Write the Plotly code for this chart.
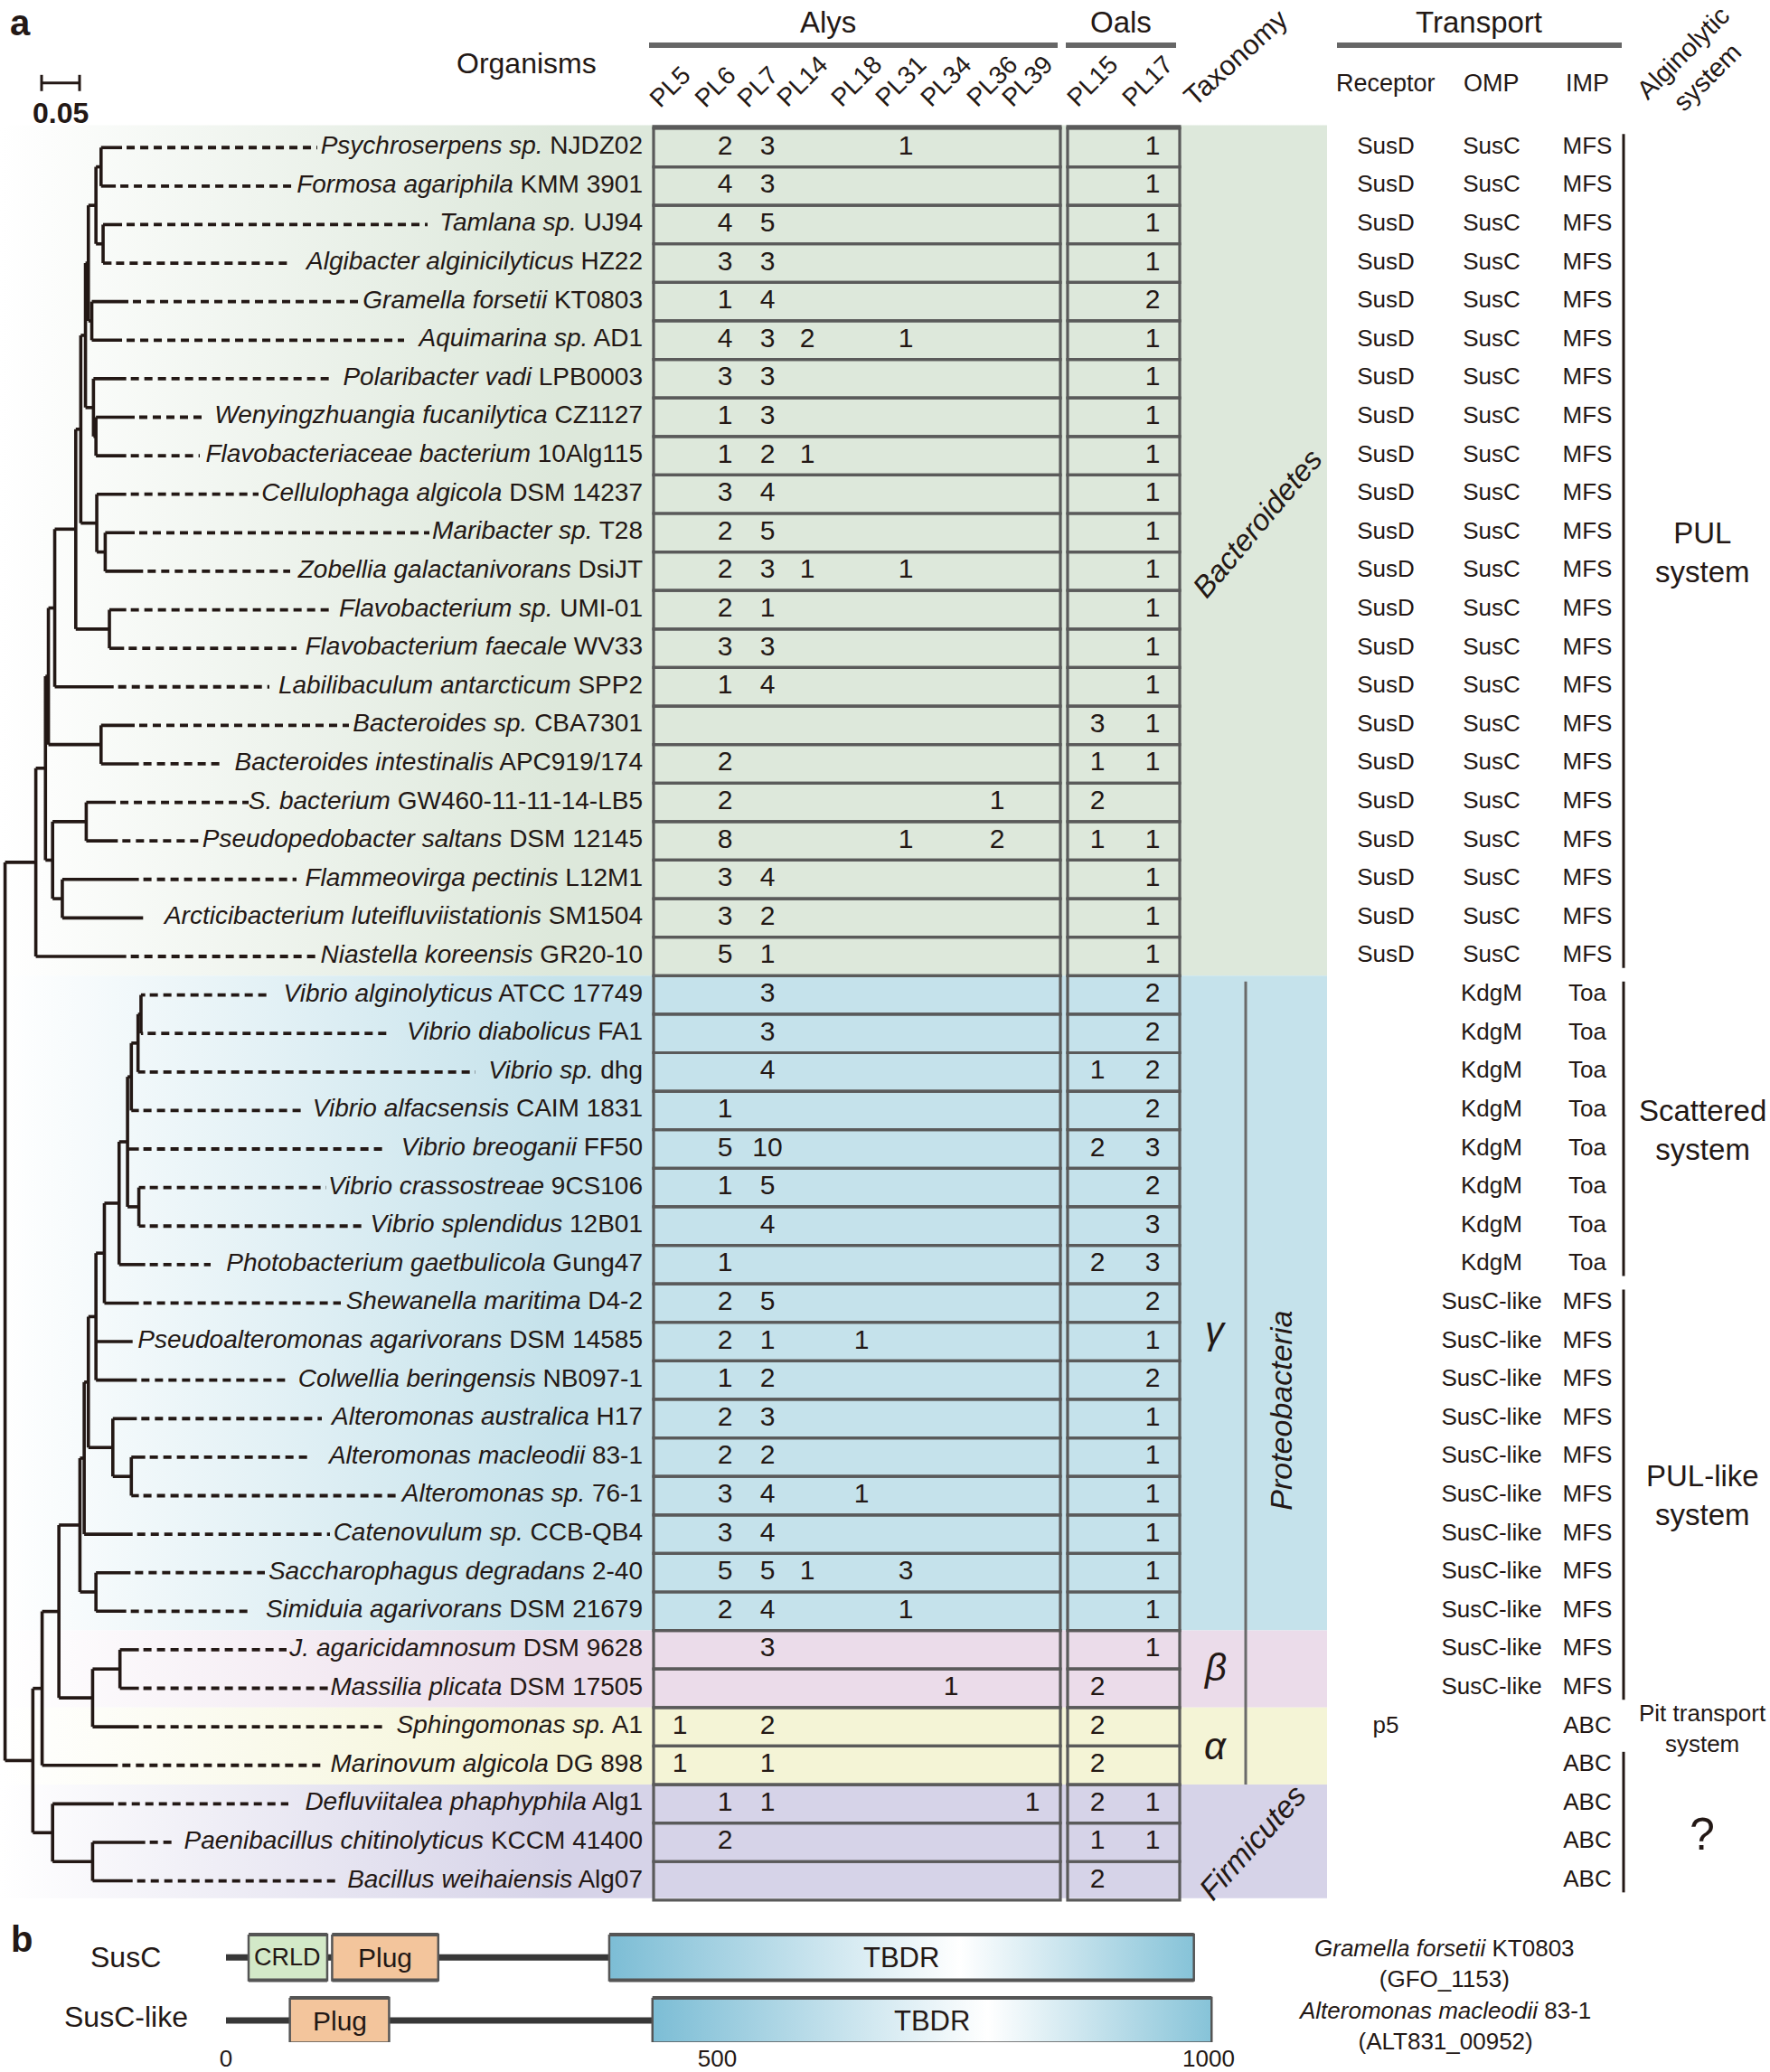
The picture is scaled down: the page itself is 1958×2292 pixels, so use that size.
import plotly.graph_objects as go

# ---------------------------------------------------------------- data
ORGANISMS = [
    "<i>Psychroserpens sp.</i> NJDZ02", "<i>Formosa agariphila</i> KMM 3901",
    "<i>Tamlana sp.</i> UJ94", "<i>Algibacter alginicilyticus</i> HZ22",
    "<i>Gramella forsetii</i> KT0803", "<i>Aquimarina sp.</i> AD1",
    "<i>Polaribacter vadi</i> LPB0003", "<i>Wenyingzhuangia fucanilytica</i> CZ1127",
    "<i>Flavobacteriaceae bacterium</i> 10Alg115", "<i>Cellulophaga algicola</i> DSM 14237",
    "<i>Maribacter sp.</i> T28", "<i>Zobellia galactanivorans</i> DsiJT",
    "<i>Flavobacterium sp.</i> UMI-01", "<i>Flavobacterium faecale</i> WV33",
    "<i>Labilibaculum antarcticum</i> SPP2", "<i>Bacteroides sp.</i> CBA7301",
    "<i>Bacteroides intestinalis</i> APC919/174", "<i>S. bacterium</i> GW460-11-11-14-LB5",
    "<i>Pseudopedobacter saltans</i> DSM 12145", "<i>Flammeovirga pectinis</i> L12M1",
    "<i>Arcticibacterium luteifluviistationis</i> SM1504", "<i>Niastella koreensis</i> GR20-10",
    "<i>Vibrio alginolyticus</i> ATCC 17749", "<i>Vibrio diabolicus</i> FA1",
    "<i>Vibrio sp.</i> dhg", "<i>Vibrio alfacsensis</i> CAIM 1831",
    "<i>Vibrio breoganii</i> FF50", "<i>Vibrio crassostreae</i> 9CS106",
    "<i>Vibrio splendidus</i> 12B01", "<i>Photobacterium gaetbulicola</i> Gung47",
    "<i>Shewanella maritima</i> D4-2", "<i>Pseudoalteromonas agarivorans</i> DSM 14585",
    "<i>Colwellia beringensis</i> NB097-1", "<i>Alteromonas australica</i> H17",
    "<i>Alteromonas macleodii</i> 83-1", "<i>Alteromonas sp.</i> 76-1",
    "<i>Catenovulum sp.</i> CCB-QB4", "<i>Saccharophagus degradans</i> 2-40",
    "<i>Simiduia agarivorans</i> DSM 21679", "<i>J. agaricidamnosum</i> DSM 9628",
    "<i>Massilia plicata</i> DSM 17505", "<i>Sphingomonas sp.</i> A1",
    "<i>Marinovum algicola</i> DG 898", "<i>Defluviitalea phaphyphila</i> Alg1",
    "<i>Paenibacillus chitinolyticus</i> KCCM 41400", "<i>Bacillus weihaiensis</i> Alg07",
]

_ = None
ALYS_COLS = ["PL5", "PL6", "PL7", "PL14", "PL18", "PL31", "PL34", "PL36", "PL39"]
OALS_COLS = ["PL15", "PL17"]
#            rows 1-10                      11-20                          21-30                           31-40                         41-46
PL5  = [_,_,_,_,_,_,_,_,_,_,  _,_,_,_,_,_,_,_,_,_,  _,_,_,_,_,_,_,_,_,_,  _,_,_,_,_,_,_,_,_,_,  _,1,1,_,_,_]
PL6  = [2,4,4,3,1,4,3,1,1,3,  2,2,2,3,1,_,2,2,8,3,  3,5,_,_,_,1,5,1,_,1,  2,2,1,2,2,3,3,5,2,_,  _,_,_,1,2,_]
PL7  = [3,3,5,3,4,3,3,3,2,4,  5,3,1,3,4,_,_,_,_,4,  2,1,3,3,4,_,10,5,4,_, 5,1,2,3,2,4,4,5,4,3,  _,2,1,1,_,_]
PL14 = [_,_,_,_,_,2,_,_,1,_,  _,1,_,_,_,_,_,_,_,_,  _,_,_,_,_,_,_,_,_,_,  _,_,_,_,_,_,_,1,_,_,  _,_,_,_,_,_]
PL18 = [_,_,_,_,_,_,_,_,_,_,  _,_,_,_,_,_,_,_,_,_,  _,_,_,_,_,_,_,_,_,_,  _,1,_,_,_,1,_,_,_,_,  _,_,_,_,_,_]
PL31 = [1,_,_,_,_,1,_,_,_,_,  _,1,_,_,_,_,_,_,1,_,  _,_,_,_,_,_,_,_,_,_,  _,_,_,_,_,_,_,3,1,_,  _,_,_,_,_,_]
PL34 = [_,_,_,_,_,_,_,_,_,_,  _,_,_,_,_,_,_,_,_,_,  _,_,_,_,_,_,_,_,_,_,  _,_,_,_,_,_,_,_,_,_,  1,_,_,_,_,_]
PL36 = [_,_,_,_,_,_,_,_,_,_,  _,_,_,_,_,_,_,1,2,_,  _,_,_,_,_,_,_,_,_,_,  _,_,_,_,_,_,_,_,_,_,  _,_,_,_,_,_]
PL39 = [_,_,_,_,_,_,_,_,_,_,  _,_,_,_,_,_,_,_,_,_,  _,_,_,_,_,_,_,_,_,_,  _,_,_,_,_,_,_,_,_,_,  _,_,_,1,_,_]
PL15 = [_,_,_,_,_,_,_,_,_,_,  _,_,_,_,_,3,1,2,1,_,  _,_,_,_,1,_,2,_,_,2,  _,_,_,_,_,_,_,_,_,_,  2,2,2,2,1,2]
PL17 = [1,1,1,1,2,1,1,1,1,1,  1,1,1,1,1,1,1,_,1,1,  1,1,2,2,2,2,3,2,3,3,  2,1,2,1,1,1,1,1,1,1,  _,_,_,1,1,_]
COUNTS = {"PL5": PL5, "PL6": PL6, "PL7": PL7, "PL14": PL14, "PL18": PL18, "PL31": PL31,
          "PL34": PL34, "PL36": PL36, "PL39": PL39, "PL15": PL15, "PL17": PL17}

RECEPTOR = ["SusD", "SusD", "SusD", "SusD", "SusD", "SusD", "SusD", "SusD", "SusD", "SusD",
            "SusD", "SusD", "SusD", "SusD", "SusD", "SusD", "SusD", "SusD", "SusD", "SusD",
            "SusD", "SusD", "", "", "", "", "", "", "", "",
            "", "", "", "", "", "", "", "", "", "",
            "", "p5", "", "", "", ""]
OMP = ["SusC", "SusC", "SusC", "SusC", "SusC", "SusC", "SusC", "SusC", "SusC", "SusC",
       "SusC", "SusC", "SusC", "SusC", "SusC", "SusC", "SusC", "SusC", "SusC", "SusC",
       "SusC", "SusC", "KdgM", "KdgM", "KdgM", "KdgM", "KdgM", "KdgM", "KdgM", "KdgM",
       "SusC-like", "SusC-like", "SusC-like", "SusC-like", "SusC-like", "SusC-like",
       "SusC-like", "SusC-like", "SusC-like", "SusC-like",
       "SusC-like", "", "", "", "", ""]
IMP = ["MFS", "MFS", "MFS", "MFS", "MFS", "MFS", "MFS", "MFS", "MFS", "MFS",
       "MFS", "MFS", "MFS", "MFS", "MFS", "MFS", "MFS", "MFS", "MFS", "MFS",
       "MFS", "MFS", "Toa", "Toa", "Toa", "Toa", "Toa", "Toa", "Toa", "Toa",
       "MFS", "MFS", "MFS", "MFS", "MFS", "MFS", "MFS", "MFS", "MFS", "MFS",
       "MFS", "ABC", "ABC", "ABC", "ABC", "ABC"]

# taxonomy groups: first row, last row
GROUP_NAMES = ["Bacteroidetes", "gamma", "beta", "alpha", "Firmicutes"]
GROUP_FIRST = [0, 22, 39, 41, 43]
GROUP_LAST = [21, 38, 40, 42, 45]

# alginolytic systems
SYSTEM_LABELS = ["PUL<br>system", "Scattered<br>system", "PUL-like<br>system",
                 "Pit transport<br>system", "?"]
SYSTEM_FIRST = [0, 22, 30, 41, 42]
SYSTEM_LAST = [21, 29, 40, 41, 45]

# phylogeny: leaf tip depths (substitutions/site) and internal nodes (depth, children)
TIP_DEPTH = [0.1541, 0.1458, 0.1541, 0.1402, 0.1624, 0.1541, 0.1596, 0.1707, 0.1596, 0.1596,
             0.1707, 0.1818, 0.1596, 0.1568, 0.1430, 0.1707, 0.1762, 0.1458, 0.1485, 0.1762,
             0.1818, 0.1596, 0.1846, 0.1818, 0.1846, 0.1762, 0.1762, 0.1846, 0.1846, 0.1846,
             0.1762, 0.1680, 0.1735, 0.1735, 0.1846, 0.1762, 0.1680, 0.1652, 0.1596, 0.1762,
             0.1762, 0.1762, 0.1485, 0.1430, 0.1846, 0.1680]
N_A = (0.1264, [0, 1]); N_B = (0.1291, [2, 3]); N_AB = (0.1197, [N_A, N_B])
N_C = (0.1142, [4, 5]); N_ABC = (0.1097, [N_AB, N_C])
N_D = (0.1197, [7, 8]); N_E = (0.1164, [6, N_D]); N_ABCE = (0.1059, [N_ABC, N_E])
N_G = (0.1319, [10, 11]); N_H = (0.1208, [9, N_G]); N_I = (0.0997, [N_ABCE, N_H])
N_J = (0.1374, [12, 13]); N_K = (0.0931, [N_I, N_J]); N_L = (0.0654, [N_K, 14])
N_N = (0.1264, [15, 16]); N_O = (0.0571, [N_L, N_N])
N_P = (0.1069, [17, 18]); N_Q = (0.0754, [19, 20]); N_R = (0.0626, [N_P, N_Q])
N_S = (0.0532, [N_O, N_R]); N_T = (0.0405, [N_S, 21])
V1 = (0.1790, [22, 23]); V2 = (0.1751, [V1, 24]); V3 = (0.1663, [V2, 25])
V5 = (0.1762, [27, 28]); V4 = (0.1613, [V3, 26, V5]); V6 = (0.1502, [V4, 29])
V7 = (0.1308, [V6, 30]); V8 = (0.1197, [V7, 31, 32])
A1 = (0.1663, [34, 35]); A2 = (0.1419, [33, A1]); V9 = (0.1097, [V8, A2])
V10 = (0.1042, [V9, 36]); V12 = (0.1197, [37, 38]); V11 = (0.0986, [V10, V12])
BB = (0.1513, [39, 40]); B1 = (0.1153, [BB, 41]); N140 = (0.0709, [V11, B1])
N100 = (0.0488, [N140, 42]); F2 = (0.1153, [44, 45]); F1 = (0.0626, [43, F2])
N78 = (0.0366, [N100, F1])
TREE = (0.0, [N_T, N78])
SCALE_BAR = 0.05

# panel b: protein architectures
PROTEINS = ["SusC", "SusC-like"]
PROT_LEN = [985, 1003]
PROT_SOURCE = ["<i>Gramella forsetii</i> KT0803<br>(GFO_1153)",
               "<i>Alteromonas macleodii</i> 83-1<br>(ALT831_00952)"]
DOM_NAME = ["CRLD", "Plug", "TBDR", "Plug", "TBDR"]
DOM_PROT = [0, 0, 0, 1, 1]
DOM_START = [23, 108, 390, 65, 434]
DOM_END = [103, 216, 985, 166, 1003]
AA_TICKS = [0, 500, 1000]

# ---------------------------------------------------------------- layout constants
W, H = 1958, 2292
FONT = "Liberation Sans, Arial, Helvetica, sans-serif"
INK = "#231815"
GREY = "#5a5a5a"
ROW0, ROW_H = 163.6, 42.7          # pixel y of first row, row pitch
TREE_X0, TREE_SCALE = 5.6, 840.0   # pixel x of root, pixels per unit
AA_X0, AA_SCALE = 250.0, 1.087     # panel b: pixel x of residue 0, pixels per residue
B_TOP, B_BOT, B_ROW0, B_ROW_H = 2130.0, 2264.0, 2170.0, 70.0
LABEL_X = 711
BAND_RIGHT = 1468
ALYS_X = (723, 1173)
OALS_X = (1181, 1305)
COL_X = {"PL5": 752, "PL6": 802, "PL7": 849, "PL14": 893, "PL18": 953, "PL31": 1002,
         "PL34": 1052, "PL36": 1103, "PL39": 1142, "PL15": 1214, "PL17": 1275}
TRANS_X = [1533, 1650, 1756]
SYS_LINE_X = 1796
SYS_TEXT_X = 1883
GROUP_COLORS = ["#dde8db", "#c5e2eb", "#ebdcea", "#f4f4d6", "#d6d3e8"]
DASH_END_PX = [351, 326, 473, 321, 400, 447, 365, 226, 221, 286,
               475, 321, 365, 328, 298, 386, 247, 275, 221, 328,
               None, 354, 296, 428, 526, 338, 428, 361, 400, 233,
               377, None, 317, 356, 342, 438, 365, 293, 275, 317,
               363, 428, 359, 319, 191, 375]


def PY(px):
    return 1 - px / H


def PX(px):
    return px / W


rows = list(range(len(ORGANISMS)))
fig = go.Figure()

# taxonomy background bands (white -> colour gradient)
for g, (r0, r1, col) in enumerate(zip(GROUP_FIRST, GROUP_LAST, GROUP_COLORS)):
    top = r0 - 0.58 if g == 0 else r0 - 0.5
    bot = r1 + 0.45 if g == len(GROUP_FIRST) - 1 else r1 + 0.5
    fig.add_trace(go.Scatter(
        x=[0, BAND_RIGHT, BAND_RIGHT, 0, 0], y=[top, top, bot, bot, top],
        mode="lines", line=dict(width=0), fill="toself", fillcolor=col,
        fillgradient=dict(type="horizontal",
                          colorscale=[[0, "#ffffff"], [0.42, col], [1, col]]),
        hoverinfo="skip", showlegend=False))

# ---------------------------------------------------------------- tree
seg_x, seg_y = [], []


def draw(node):
    if isinstance(node, int):
        return float(node)
    depth, kids = node
    ys = [draw(k) for k in kids]
    seg_x.extend([depth, depth, None])
    seg_y.extend([ys[0], ys[-1], None])
    for k, yk in zip(kids, ys):
        xk = TIP_DEPTH[k] if isinstance(k, int) else k[0]
        seg_x.extend([depth, xk, None])
        seg_y.extend([yk, yk, None])
    return (ys[0] + ys[-1]) / 2


draw(TREE)
fig.add_trace(go.Scatter(x=seg_x, y=seg_y, xaxis="x2", yaxis="y", mode="lines",
                         line=dict(color=INK, width=3.6), hoverinfo="skip", showlegend=False))

dash_x, dash_y = [], []
for i, end in enumerate(DASH_END_PX):
    if end is None:
        continue
    dash_x.extend([TIP_DEPTH[i] + 5 / TREE_SCALE, (end - TREE_X0) / TREE_SCALE, None])
    dash_y.extend([i, i, None])
fig.add_trace(go.Scatter(x=dash_x, y=dash_y, xaxis="x2", yaxis="y", mode="lines",
                         line=dict(color=INK, width=3.8, dash="9px,6px"),
                         hoverinfo="skip", showlegend=False))

# organism labels
fig.add_trace(go.Scatter(x=[LABEL_X] * len(rows), y=rows, mode="text", text=ORGANISMS,
                         textposition="middle left",
                         textfont=dict(family=FONT, size=28, color=INK),
                         hoverinfo="skip", showlegend=False))

# ---------------------------------------------------------------- gene count table
shapes = []
for (x0, x1) in (ALYS_X, OALS_X):
    for r in rows:
        shapes.append(dict(type="rect", xref="x", yref="y", x0=x0, x1=x1, y0=r - 0.5, y1=r + 0.5,
                           line=dict(color=GREY, width=3.2), fillcolor="rgba(0,0,0,0)"))
    shapes.append(dict(type="line", xref="x", yref="y", x0=x0 - 1.5, x1=x1 + 1.5,
                       y0=-0.53, y1=-0.53, line=dict(color=GREY, width=5)))

for col in ALYS_COLS + OALS_COLS:
    vals = COUNTS[col]
    ys = [r for r in rows if vals[r] is not None]
    fig.add_trace(go.Scatter(x=[COL_X[col]] * len(ys), y=ys, mode="text",
                             text=[str(vals[r]) for r in ys], textposition="middle center",
                             textfont=dict(family=FONT, size=30, color=INK),
                             hoverinfo="skip", showlegend=False))

# transport columns
for xc, col in zip(TRANS_X, (RECEPTOR, OMP, IMP)):
    ys = [r for r in rows if col[r]]
    fig.add_trace(go.Scatter(x=[xc] * len(ys), y=ys, mode="text", text=[col[r] for r in ys],
                             textposition="middle center",
                             textfont=dict(family=FONT, size=26, color=INK),
                             hoverinfo="skip", showlegend=False))

annotations = []


def ann(text, x, y, size, xref="x", yref="y", angle=0, xanchor="center", yanchor="middle",
        bold=False, italic=False, align="center", color=INK):
    if bold:
        text = "<b>" + text + "</b>"
    if italic:
        text = "<i>" + text + "</i>"
    annotations.append(dict(text=text, x=x, y=y, xref=xref, yref=yref, showarrow=False,
                            textangle=angle, xanchor=xanchor, yanchor=yanchor, align=align,
                            font=dict(family=FONT, size=size, color=color)))


# alginolytic systems
for lab, r0, r1 in zip(SYSTEM_LABELS, SYSTEM_FIRST, SYSTEM_LAST):
    if r1 > r0:
        shapes.append(dict(type="line", xref="x", yref="y", x0=SYS_LINE_X, x1=SYS_LINE_X,
                           y0=r0 - 0.35, y1=r1 + 0.3, line=dict(color=INK, width=3)))
    size = 33
    yc = (r0 + r1) / 2
    if lab.startswith("Pit"):
        size = 26
        yc = r0 + 0.05
    if lab == "?":
        size = 50
        yc = (r0 + r1) / 2 + 0.3
    ann(lab, SYS_TEXT_X, yc, size)

# taxonomy
ann("Bacteroidetes", 1391, 9.75, 33, angle=-50, italic=True)
ann("Proteobacteria", 1417, 32.8, 34, angle=-90, italic=True)
ann("γ", 1344, 30.7, 42, italic=True)
ann("β", 1344, 39.45, 42, italic=True)
ann("α", 1344, 41.5, 42, italic=True)
ann("Firmicutes", 1385, 44.0, 34, angle=-48, italic=True)
shapes.append(dict(type="line", xref="x", yref="y", x0=1378, x1=1378, y0=21.65, y1=42.5,
                   line=dict(color="#6a6a6a", width=3)))

# ---------------------------------------------------------------- headers
ann("a", PX(22), PY(25), 40, xref="paper", yref="paper", bold=True)
sb0 = (46 - TREE_X0) / TREE_SCALE
for (xa, xb, ya, yb) in ((sb0, sb0 + SCALE_BAR, 92, 92), (sb0, sb0, 83, 101),
                         (sb0 + SCALE_BAR, sb0 + SCALE_BAR, 83, 101)):
    shapes.append(dict(type="line", xref="x2", yref="paper", x0=xa, x1=xb, y0=PY(ya), y1=PY(yb),
                       line=dict(color=INK, width=3)))
ann(f"{SCALE_BAR:.2f}", PX(67), PY(125), 32, xref="paper", yref="paper", bold=True)
ann("Organisms", PX(582), PY(70), 32, xref="paper", yref="paper")
ann("Alys", PX(916), PY(25), 33, xref="paper", yref="paper")
ann("Oals", PX(1240), PY(25), 33, xref="paper", yref="paper")
ann("Transport", PX(1636), PY(25), 33, xref="paper", yref="paper")
for (xa, xb) in ((718, 1170), (1179, 1301), (1479, 1794)):
    shapes.append(dict(type="line", xref="paper", yref="paper", x0=PX(xa), x1=PX(xb),
                       y0=PY(50), y1=PY(50), line=dict(color="#666666", width=6)))
for lab, xc in zip(["Receptor", "OMP", "IMP"], TRANS_X):
    ann(lab, PX(xc), PY(92), 27, xref="paper", yref="paper")
for col in ALYS_COLS + OALS_COLS:
    ann(col, COL_X[col] - 42, PY(127), 28, yref="paper", angle=-45,
        xanchor="left", yanchor="bottom")
ann("Taxonomy", 1300, PY(127), 31, yref="paper", angle=-42, xanchor="left", yanchor="bottom")
ann("Alginolytic<br>system", PX(1875), PY(72), 29, xref="paper", yref="paper", angle=-45)

# ---------------------------------------------------------------- panel b
ann("b", PX(24), PY(2150), 40, xref="paper", yref="paper", bold=True)
DOM_STYLE = {"CRLD": ("#d3e9c8", 27), "Plug": ("#f3c59c", 30), "TBDR": (None, 31)}
for p, (name, length, src) in enumerate(zip(PROTEINS, PROT_LEN, PROT_SOURCE)):
    fig.add_trace(go.Scatter(x=[0, length], y=[p, p], xaxis="x3", yaxis="y3", mode="lines",
                             line=dict(color="#383838", width=7), hoverinfo="skip",
                             showlegend=False))
    ann(name, PX(139), p if p == 0 else p - 0.06, 32, xref="paper", yref="y3")
    ann(src, PX(1598), p + 0.09, 26, xref="paper", yref="y3")
HALF = 0.36
for name, p, s, e in zip(DOM_NAME, DOM_PROT, DOM_START, DOM_END):
    fill, fsize = DOM_STYLE[name]
    kw = dict(fill="toself", fillcolor=fill or "#bfe0eb")
    if fill is None:
        kw["fillgradient"] = dict(type="horizontal",
                                  colorscale=[[0, "#7cbdd5"], [0.6, "#ffffff"], [1, "#86c3d8"]])
    fig.add_trace(go.Scatter(x=[s, e, e, s, s], y=[p - HALF, p - HALF, p + HALF, p + HALF, p - HALF],
                             xaxis="x3", yaxis="y3", mode="lines",
                             line=dict(color="#555555", width=2.5), hoverinfo="skip",
                             showlegend=False, **kw))
    for yy in (p - HALF, p + HALF):
        shapes.append(dict(type="line", xref="x3", yref="y3", x0=s, x1=e, y0=yy, y1=yy,
                           line=dict(color="#555555", width=4)))
    ann(name, (s + e) / 2, p, fsize, xref="x3", yref="y3")

fig.update_layout(
    width=W, height=H, margin=dict(l=0, r=0, t=0, b=0),
    paper_bgcolor="white", plot_bgcolor="rgba(0,0,0,0)", showlegend=False,
    xaxis=dict(domain=[0, 1], range=[0, W], visible=False),
    yaxis=dict(domain=[0, 1], range=[(H - ROW0) / ROW_H, -ROW0 / ROW_H], visible=False),
    xaxis2=dict(domain=[0, 1], range=[-TREE_X0 / TREE_SCALE, (W - TREE_X0) / TREE_SCALE],
                anchor="y", overlaying="x", visible=False),
    xaxis3=dict(domain=[0, 1], range=[-AA_X0 / AA_SCALE, (W - AA_X0) / AA_SCALE], anchor="y3",
                tickvals=AA_TICKS, ticks="", showline=False, showgrid=False, zeroline=False,
                tickfont=dict(family=FONT, size=26, color=INK)),
    yaxis3=dict(domain=[PY(B_BOT), PY(B_TOP)],
                range=[(B_BOT - B_ROW0) / B_ROW_H, (B_TOP - B_ROW0) / B_ROW_H],
                anchor="x3", visible=False),
    shapes=shapes, annotations=annotations,
)

fig.write_html(
    "out.html",
    config={"displayModeBar": False, "staticPlot": True},
    post_script=("document.body.style.margin='0px';document.body.style.padding='0px';"
                 "document.body.style.overflow='hidden';"
                 "document.documentElement.style.overflow='hidden';"),
)
